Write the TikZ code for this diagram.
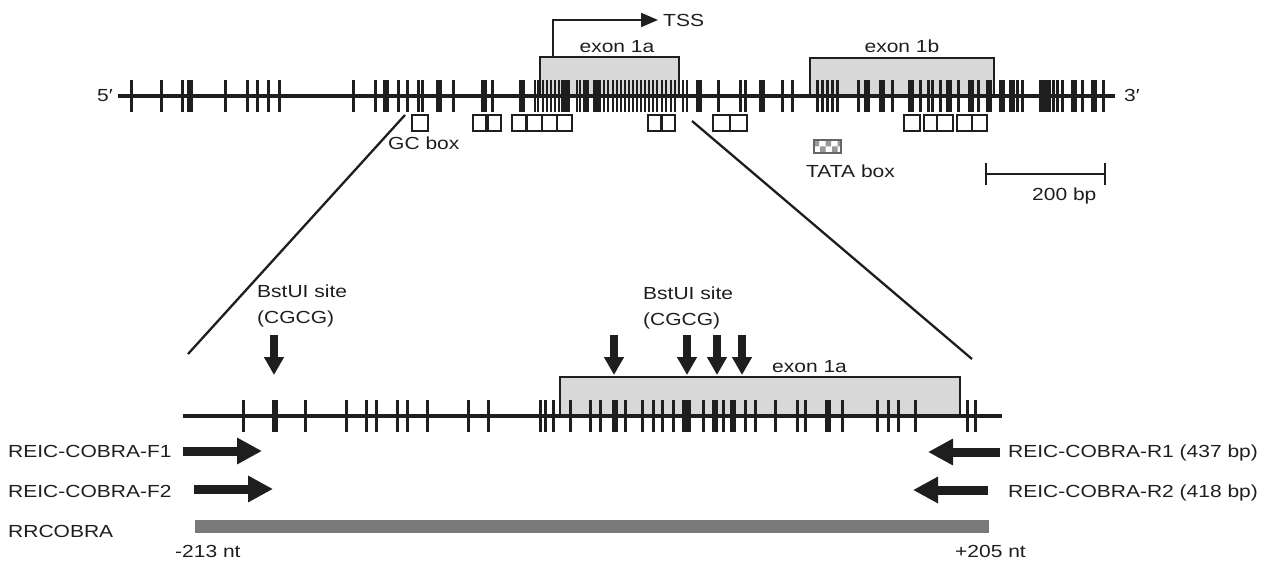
\documentclass[tikz,border=0pt]{standalone}
\usepackage{fontspec}
\setmainfont{Liberation Sans}[FakeStretch=1.2]
\usetikzlibrary{arrows.meta,patterns}
\definecolor{ink}{RGB}{30,30,30}
\definecolor{exonfill}{RGB}{216,216,216}
\definecolor{barfill}{RGB}{122,122,122}
\begin{document}
\begin{tikzpicture}[x=1pt,y=-1pt,
  font=\fontsize{17.5}{20}\selectfont, text=ink,
  tk/.style={draw=ink,line width=3.0pt},
  tkd/.style={draw=ink,line width=2.5pt},
  tkb/.style={draw=ink,line width=5.5pt},
  dna/.style={draw=ink,line width=3.4pt},
  exonbox/.style={fill=exonfill},
  exonedge/.style={draw=ink,line width=2.5pt},
  gcbox/.style={draw=ink,line width=2pt,fill=white},
  zoomline/.style={draw=ink,line width=2.3pt},
  blockR/.style={draw=ink,line width=9pt,-{Triangle[width=25pt,length=25pt]}},
  siteArrow/.style={draw=ink,line width=7.5pt,-{Triangle[width=19pt,length=18pt]}},
  lbl/.style={inner sep=0pt,anchor=base west}]
\useasboundingbox (0,0) rectangle (1277,562);

% ---------- top map ----------
\fill[exonbox] (540,57) rectangle (679,96);
\fill[exonbox] (810,58) rectangle (994,96);
\draw[exonedge] (540,96) -- (540,57) -- (679,57) -- (679,96);
\draw[exonedge] (810,96) -- (810,58) -- (994,58) -- (994,96);

\coordinate (t5) at (118,96);
\coordinate (t3) at (1115,96);
\draw[dna] (t5) -- (t3);
\foreach \x in {131,161,182,225,247,257,268,279,353,375,398,407,418,422,437,440,453,482,485,492,520,523,
  697,700,718,740,745,760,763,782,792,817,822,827,832,837,858,865,868,880,883,892,920,928,932,940,947,950,958,978,987,990,
  1000,1003,1010,1013,1017,1022,1053,1057,1062,1072,1075,1082,1092,1095,1103}
  \draw[tk] (\x,80) -- (\x,112);
\foreach \x in {535,538,543,547,551,555,559,562,569,577,580,594,604,608,613,617,621,625,629,633,637,641,645,649,653,657,662,666,671,675,683,687}
  \draw[tkd] (\x,80) -- (\x,112);
\foreach \x in {190,386,566,586,598,911,971,1042,1048}
  \draw[tkb] (\x,80) -- (\x,112);

\node[lbl,anchor=base east] (p5) at (113,101) {5′};
\node[lbl] (p3) at (1124,101) {3′};

\node[lbl,anchor=base] (ex1a) at (617,52) {exon 1a};
\node[lbl,anchor=base] (ex1b) at (902,52) {exon 1b};
\node[lbl] (tss) at (663,27) {TSS};
\coordinate (tssfoot) at (553,57);
\draw[draw=ink,line width=2.1pt,-{Triangle[width=14pt,length=17pt]}]
  (tssfoot) |- ([xshift=-5pt,yshift=1pt]tss.west);

% GC boxes
\foreach \a/\b in {412/428,473/486,488/501,512/526,527/542,542/557,557/572,648/661,662/675,713/730,730/747,904/920,924/937,937/953,957/972,972/987}
  \draw[gcbox] (\a,115) rectangle (\b,131);
\node[lbl] (gc) at (388,149) {GC box};

% TATA box
\draw[draw=gray!80!black,line width=1.2pt,pattern=checkerboard,pattern color=gray!80] (814,140) rectangle (841,153);
\node[lbl] (tata) at (806,177) {TATA box};

% scale bar
\coordinate (sbL) at (986,174);
\coordinate (sbR) at (1105,174);
\draw[draw=ink,line width=2.1pt] (sbL) -- (sbR);
\draw[draw=ink,line width=2.1pt] ([yshift=-11pt]sbL) -- ([yshift=11pt]sbL);
\draw[draw=ink,line width=2.1pt] ([yshift=-11pt]sbR) -- ([yshift=11pt]sbR);
\node[lbl] (bp) at (1032,200) {200 bp};

% zoom lines
\coordinate (zl1) at (405,115);
\coordinate (zl2) at (188,354);
\coordinate (zr1) at (692,121);
\coordinate (zr2) at (972,359);
\draw[zoomline] (zl1) -- (zl2);
\draw[zoomline] (zr1) -- (zr2);

% ---------- bottom map ----------
\fill[exonbox] (560,377) rectangle (960,416);
\draw[exonedge] (560,416) -- (560,377) -- (960,377) -- (960,416);
\coordinate (b5) at (183,416);
\coordinate (b3) at (1002,416);
\draw[dna] (b5) -- (b3);
\foreach \x in {243,305,346,366,376,397,407,427,468,488,540,545,553,570,590,600,625,642,653,662,673,683,703,723,745,755,775,797,805,842,877,888,898,915,967,975}
  \draw[tk] (\x,400) -- (\x,432);
\foreach \x in {275,615,688,715,733,828}
  \draw[tkb] (\x,400) -- (\x,432);
\node[lbl] (ex1abot) at (772,372) {exon 1a};

% BstUI sites
\node[lbl] (bst1) at (257,297) {BstUI site};
\node[lbl] (cg1) at (257,323) {(CGCG)};
\node[lbl] (bst2) at (643,299) {BstUI site};
\node[lbl] (cg2) at (643,325) {(CGCG)};
\foreach \x/\n in {274/s1,614/s2,687/s3,717/s4,742/s5}{
  \coordinate (\n a) at (\x,335);
  \coordinate (\n b) at (\x,375);
  \draw[siteArrow] (\n a) -- (\n b);
}

% primers
\node[lbl] (f1) at (8,457) {REIC-COBRA-F1};
\node[lbl] (f2) at (8,497) {REIC-COBRA-F2};
\node[lbl] (rr) at (8,537) {RRCOBRA};
\node[lbl] (r1) at (1008,457) {REIC-COBRA-R1 (437 bp)};
\node[lbl] (r2) at (1008,497) {REIC-COBRA-R2 (418 bp)};
\coordinate (f1a) at (183,451); \coordinate (f1b) at (262,451);
\coordinate (f2a) at (194,489); \coordinate (f2b) at (273,489);
\coordinate (r1a) at (1000,452); \coordinate (r1b) at (928,452);
\coordinate (r2a) at (988,490); \coordinate (r2b) at (913,490);
\draw[blockR] (f1a) -- (f1b);
\draw[blockR] (f2a) -- (f2b);
\draw[blockR] (r1a) -- (r1b);
\draw[blockR] (r2a) -- (r2b);

% RRCOBRA amplicon bar
\fill[barfill] (195,520) rectangle (989,533);
\node[lbl] (n213) at (175,557) {-213 nt};
\node[lbl] (n205) at (955,557) {+205 nt};
\end{tikzpicture}
\end{document}
